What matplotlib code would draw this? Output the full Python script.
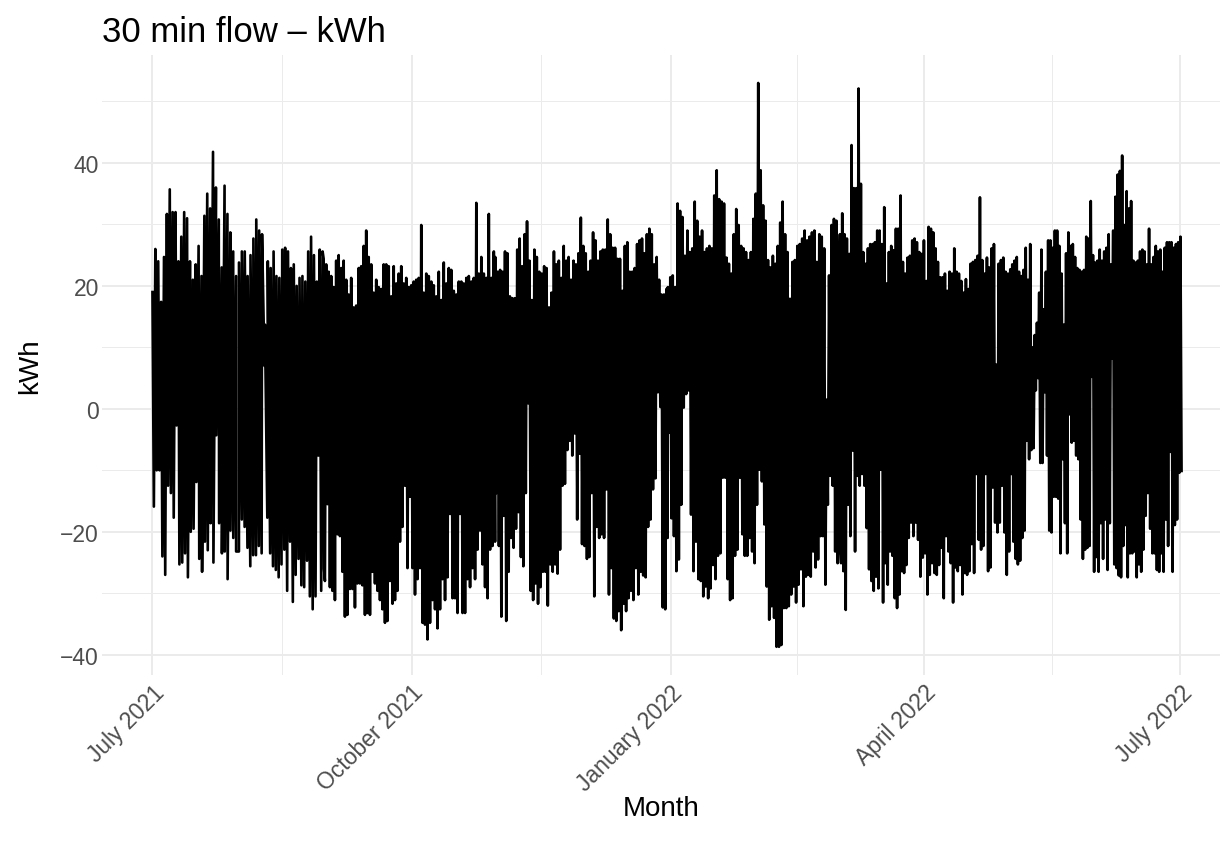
import numpy as np
import pandas as pd
import matplotlib
matplotlib.use("Agg")
import matplotlib.pyplot as plt
import matplotlib.dates as mdates
from matplotlib.ticker import FixedLocator

plt.rcParams["font.family"] = ["Liberation Sans", "DejaVu Sans"]

# Half-hourly flow read off the chart as successive daily highs / lows,
# grouped in six stretches of about two months each.
seg_bounds = [
    ("2021-07-01 00:00", "2021-08-30 10:00"),
    ("2021-08-30 19:00", "2021-10-30 05:00"),
    ("2021-10-30 17:00", "2021-12-30 12:00"),
    ("2021-12-31 00:00", "2022-03-01 17:00"),
    ("2022-03-02 02:00", "2022-05-01 14:00"),
    ("2022-05-02 07:00", "2022-07-01 00:00"),
]

seg1_hi = [19, 26, 24, 17.4, 24.7, 31.7, 35.7, 32, 32, 24, 28, 32, 31, 24, 21, 23.5, 26.5, 21.6, 31.4, 35,
           32.6, 41.8, 36, 30.8, 23, 36.3, 31.7, 28.7, 25.6, 21.6, 23.8, 25.6, 25.6, 21.6, 25, 27.7, 30.8, 29, 28.4, 13.7,
           24, 22.9, 25.6, 21.6, 21.3, 25.9, 26.2, 25.6, 22.9, 23.5, 20, 21.3, 21.6, 20.7, 25.6, 28, 25, 20.7, 25.9, 25.6]
seg1_lo = [-15.9, -10, -10, -24, -27, -12.5, -13.7, -17.7, -2.7, -25.3, -25, -23.5, -27.4, -20, -19.5, -11.9, -24.4,
           -26.5, -21.6, -23, -18.6, -25, -4.3, -18.6, -23.5, -23.2, -27.7, -19.8, -21, -23.2, -23.2, -18, -19.2, -22.6,
           -25.6, -23.8, -23.8, -22.3, -23.5, 7, -17.7, -23.5, -25.6, -26.2, -27.4, -25.3, -22.9, -29.6, -21.6, -31.4,
           -27, -24.4, -28.7, -29, -24.7, -30.5, -32.6, -30.5, -7.6, -29.6, -26]

seg2_hi = [24.4, 23.5, 22.3, 21.6, 19.8, 24.1, 25, 22.9, 24.1, 21, 18.6, 21.3, 16.5, 16.8, 22.9, 23.2, 26.5, 29, 24.7,
           23.5, 18.9, 21, 19.8, 19.5, 23.5, 23.5, 23.2, 18.3, 23.2, 20.4, 22, 23.2, 20.4, 21.3, 19.8, 20.1, 20.7, 21,
           21.3, 29.9, 18.9, 22, 21.6, 20.7, 20.1, 18.3, 22.3, 17.7, 23.8, 20.4, 22.9, 22.6, 19.2, 18.6, 20.7, 20.7, 20.4,
           21.3, 21.6, 20.7, 21.3, 33.5, 22, 24.7, 22, 21.3, 31.7, 21.3, 25.6]
seg2_lo = [-28, -15.5, -29, -29.6, -31.1, -20.4, -20.7, -26.5, -33.8, -33.5, -29.3, -29.3, -32.3, -28.4, -28.4, -28.7,
           -33.5, -33.2, -33.5, -26.5, -28.4, -29.6, -31.1, -32.6, -34.8, -34.5, -28, -31.7, -31.1, -29.6, -21.6, -19.2,
           -12.5, -25.9, -14.3, -25.9, -30.2, -27.7, -25.9, -34.8, -35.1, -37.5, -34.8, -31.1, -32.6, -35.7, -32.6, -27.7,
           -31.1, -27.4, -17.1, -30.8, -30.8, -33.2, -17.1, -33.2, -33.2, -27.7, -29, -25.9, -27.7, -22.9, -19.8, -25.3,
           -29, -30.8, -22.9, -22.3, -21.6]

seg3_hi = [24.7, 22.3, 22.6, 22.3, 25.6, 25.3, 18.3, 18, 18, 25.9, 27.7, 23.2, 28.4, 30.5, 24.1, 17.7, 25.9, 24.7, 22.3,
           22, 23.2, 22.9, 16.5, 18.9, 25.6, 23.5, 24.1, 21.3, 26.5, 24.1, 24.7, 21, 24.1, 23.5, 25.3, 31.1, 26.5, 25.3,
           22.3, 24.1, 28.7, 27.4, 24.1, 25.6, 25.9, 25.9, 30.8, 28.4, 26.2, 26.2, 24.4, 24.4, 19.2, 26.5, 27.1, 22.3,
           22.3, 22.9, 26.8, 27.4, 27.7, 25.3, 28.4, 29.3, 28.4, 23.5, 24.7, 21, 18.6, 18.6, 19.5]
seg3_lo = [-13.7, -22.3, -33.8, -17.4, -34.5, -26.5, -21, -22.6, -19.5, -16.8, -24.1, -25.6, -13.7, 0.9, -29.6, -31.1,
           -28.4, -31.7, -29, -26.5, -26.5, -32, -25.3, -26.5, -25.3, -26.8, -22.9, -12.5, -12.2, -6.7, -5.2, -7.6, -4,
           -18, -7.3, -22, -22.3, -24.4, -24.1, -13.7, -30.5, -19.2, -21, -20.4, -21, -13.1, -30.2, -25.9, -34.1, -34.5,
           -32.9, -36, -31.7, -32.9, -30.8, -29.6, -31.1, -25.9, -30.2, -26.5, -27.1, -27.4, -19.2, -18, -13.1, -11.3,
           2.7, 0.3, -32.3, -32.6, -21]

seg4_hi = [19.8, 21.4, 21.7, 19.8, 33.4, 32.2, 31.2, 24.9, 29, 25.5, 26.1, 33.7, 30.6, 28, 29, 25.5, 26.1, 26.5, 26.1,
           34.7, 38.8, 34.1, 33.7, 33.4, 24.6, 23.6, 22, 28.4, 32.5, 29.9, 26.5, 26.1, 25.5, 24.2, 25.5, 30.9, 35, 53,
           38.8, 33.1, 30.6, 24.2, 23, 24.9, 23.6, 26.5, 30.3, 33.7, 28.4, 25.5, 17.9, 23.9, 24.2, 26.5, 26.8, 27.7, 29,
           27.4, 28, 28.7, 29, 23.9, 28.4, 28, 26.1, 1.5, 21.7, 29.9, 30.9, 30.6, 19.2]
seg4_lo = [-3.9, -17.8, -20.7, -26.4, -24.5, -15.6, 0.2, 2.4, 3, -17.2, -26.4, -21.6, -27.7, -28, -30.5, -28.9, -30.8,
           -29.2, -25.4, -27.7, -23.9, -23.5, -11.2, -11.2, -27.7, -31.1, -30.8, -23.9, -22.9, -11.2, -20.4, -23.9,
           -23.9, -21, -23.2, -25.1, -15.6, -9.9, -11.8, -18.8, -28.9, -34.3, -32.1, -34, -38.7, -38.7, -38.4, -32.4,
           -32.4, -32.1, -30.2, -28.9, -31.5, -28.6, -26.1, -32.1, -27.3, -27, -27.3, -23.2, -25.8, -24.5, -20.7, -20.7,
           -28.6, -15.6, -10.9, -12.5, -23.2, -25.1, -22]

seg5_hi = [28.4, 31.8, 28.4, 27.7, 25.2, 42.9, 35.9, 35.9, 52.1, 36.6, 25.5, 23.6, 26.1, 26.8, 26.8, 27.1, 29, 29, 26.8,
           32.8, 20.4, 25.5, 26.5, 25.8, 29.3, 29.3, 34.7, 23.9, 22, 24.6, 24.9, 27.4, 27.7, 27.1, 25.5, 25.2, 27.4, 20.8,
           29.6, 29.3, 28.7, 26.1, 23.9, 21.4, 21.4, 22, 19.2, 22.3, 22, 26.1, 22.3, 22, 20.8, 18.9, 21.1, 19.5, 23.6,
           23.9, 24.2, 24.9, 34.4, 24.2, 22, 24.6, 23, 26.1, 26.8, 7.2, 23.6, 24.2, 24.6, 22.3, 22, 22.7]
seg5_lo = [-25.1, -26.4, -32.7, -15.6, -20.7, -6.8, -23.2, -10.9, -12.5, -10.6, -12.5, -19.4, -26.1, -28, -29.6, -27.3,
           -29.2, -9.9, -31.5, -25.1, -28.6, -23.2, -23.9, -30.8, -32.4, -30.2, -26.4, -26.7, -25.4, -21, -18.5, -20.7,
           -18.5, -21.3, -27.3, -24.2, -23.5, -30.2, -27, -25.1, -26.7, -27, -25.4, -22.6, -30.8, -20.7, -23.2, -25.1,
           -31.5, -25.8, -26.4, -25.4, -30.2, -26.7, -27, -26.4, -22, -26.7, -10.6, -21.3, -22.9, -22.3, -10.6, -26.4,
           -25.8, -12.8, -18.5, -20.1, -18.5, -12.5, -20.1, -27, -23.2, -10.6]

seg6_hi = [23.5, 24.1, 24.7, 22.3, 21.6, 22.6, 26.2, 21, 26.8, 10, 12, 14, 18.9, 25.9, 16.2, 22.3, 27.4, 27.4, 26.2, 29,
           29, 26.5, 22, 13.7, 25.3, 28.7, 26.5, 26.8, 24.7, 22.9, 22.6, 22.3, 22.6, 28, 27.7, 33.8, 25, 23.8, 24.1, 25.9,
           24.1, 25.6, 26.2, 28.4, 23.5, 29, 34.5, 38.1, 38.7, 41.2, 29.9, 35.4, 32.6, 33.8, 24.1, 23.8, 24.1, 25.6, 25.9,
           25.6, 23.5, 29.3, 23.5, 24.7, 26.5, 25.6, 25.9, 22.3, 26.2, 27.1, 27.1, 27.1, 26.2, 26.8, 27.1, 28]
seg6_lo = [-21.6, -24.4, -25.3, -24.7, -21, -19.8, -5.2, -8.2, -6.7, -6.4, 3, 5, -8.8, -8.8, 2.7, -7.6, -19.8, -20.1,
           -14.3, -14.3, -14.6, -23.5, -8.2, -18.6, -23.5, -0.9, -5.5, -5.2, -7.6, -8.2, -18, -24.4, -22.9, -22.6, -22.3,
           5.2, -26.5, -24.1, -26.5, -18.6, -24.4, -18, -26.2, -18.6, 8.2, -25.3, -25.9, -27.1, -27.4, -22.3, -18.9,
           -27.4, -23.5, -23.5, -23.2, -27.4, -25.3, -26.5, -22.9, -17.4, -13.7, -19.5, -23.5, -23.5, -26.2, -26.5,
           -23.5, -26.5, -18, -22.3, -7, -26.5, -18.9, -18, -10.4, -10.1]

seg_highs = [seg1_hi, seg2_hi, seg3_hi, seg4_hi, seg5_hi, seg6_hi]
seg_lows = [seg1_lo, seg2_lo, seg3_lo, seg4_lo, seg5_lo, seg6_lo]

month_breaks = ["2021-07-01", "2021-10-01", "2022-01-01", "2022-04-01", "2022-07-01"]
y_breaks = [-40, -20, 0, 20, 40]


def segment_series(start, end, hi, lo):
    """Lay the highs and lows of one stretch out in time, lows half a step after highs."""
    t0, t1 = pd.Timestamp(start), pd.Timestamp(end)
    t_hi = pd.date_range(t0, t1, periods=len(hi))
    step = (t1 - t0) / (len(lo) - 1)
    t_lo = pd.date_range(t0, t1, periods=len(lo)) + step / 2
    return pd.concat([pd.Series(hi, index=t_hi), pd.Series(lo, index=t_lo)])


flow = pd.concat([segment_series(b[0], b[1], h, l)
                  for b, h, l in zip(seg_bounds, seg_highs, seg_lows)]).sort_index()

fig = plt.figure(figsize=(12.26, 8.45), dpi=100)
ax = fig.add_axes([0.083, 0.20, 0.912, 0.734])

ax.plot(flow.index, flow.values, color="black", lw=1.9)

# ggplot-like expansion of the limits
lo_v, hi_v = flow.min(), flow.max()
pad = 0.05 * (hi_v - lo_v)
ax.set_ylim(lo_v - pad, hi_v + pad)
t_start, t_end = pd.Timestamp(month_breaks[0]), pd.Timestamp(month_breaks[-1])
ax.set_xlim(t_start - pd.Timedelta(days=18), t_end + pd.Timedelta(days=14))

majors = pd.to_datetime(month_breaks)
minors = majors[:-1] + (majors[1:] - majors[:-1]) / 2
ax.xaxis.set_major_locator(FixedLocator(mdates.date2num(majors)))
ax.xaxis.set_minor_locator(FixedLocator(mdates.date2num(minors)))
ax.xaxis.set_major_formatter(mdates.DateFormatter("%B %Y"))
ax.yaxis.set_major_locator(FixedLocator(y_breaks))
ax.yaxis.set_minor_locator(FixedLocator([v + 10 for v in y_breaks]))

ax.grid(which="major", color="#EBEBEB", lw=1.4)
ax.grid(which="minor", color="#EBEBEB", lw=0.7)
ax.set_axisbelow(True)
for sp in ax.spines.values():
    sp.set_visible(False)

ax.tick_params(which="both", length=0, labelsize=16.5, labelcolor="#4D4D4D")
ax.tick_params(axis="y", pad=2)
ax.tick_params(axis="x", pad=4)
for lab in ax.get_xticklabels():
    lab.set_rotation(45)
    lab.set_ha("right")
    lab.set_va("top")
    lab.set_rotation_mode("anchor")

ax.set_title("30 min flow \u2013 kWh", loc="left", fontsize=25, pad=10)
ax.set_xlabel("Month", fontsize=20, labelpad=0)
ax.set_ylabel("kWh", fontsize=20, labelpad=12)

fig.savefig("out.png", dpi=100)
